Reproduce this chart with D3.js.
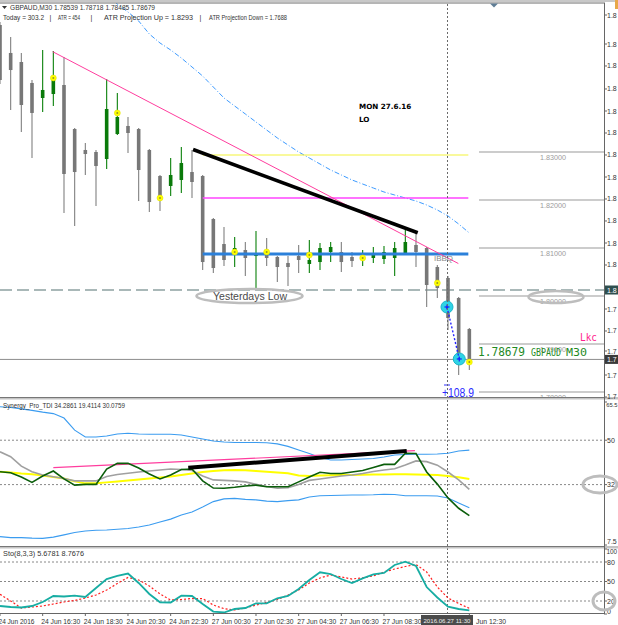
<!DOCTYPE html>
<html><head><meta charset="utf-8">
<script src="https://cdn.jsdelivr.net/npm/d3@7"></script>
<style>html,body{margin:0;padding:0;background:#fff;overflow:hidden}</style>
</head><body><svg id="c" width="618" height="625"></svg>
<script>
// ---------- DATA ----------
const timeLabels = ["24 Jun 2016","24 Jun 16:30","24 Jun 18:30","24 Jun 20:30","24 Jun 22:30","27 Jun 00:30","27 Jun 02:30","27 Jun 04:30","27 Jun 06:30","27 Jun 08:30","Jun 12:30"];
const timeLabelBars = [0,4,8,12,16,20,24,28,32,36,44];
const cursorTimeLabel = "2016.06.27 11:30";
const cursorBar = 42;
const open  = [1.85646,1.85063,1.84875,1.84438,1.84125,1.84208,1.84396,1.83479,1.83042,1.83000,1.82854,1.83375,1.83542,1.83479,1.83042,1.82500,1.82292,1.82417,1.82583,1.82500,1.81604,1.81083,1.80875,1.80958,1.80833,1.80958,1.80813,1.80688,1.80833,1.80667,1.80708,1.80917,1.80917,1.80813,1.80750,1.80792,1.80771,1.80792,1.80896,1.81063,1.81000,1.80604,1.80375,1.79958,1.79313];
const high  = [1.85708,1.85396,1.85063,1.84500,1.85125,1.85104,1.84979,1.83500,1.83188,1.83042,1.84521,1.84229,1.83729,1.83500,1.83060,1.82520,1.82875,1.83104,1.83042,1.82520,1.81625,1.81438,1.81229,1.81125,1.81354,1.81208,1.80833,1.80833,1.81063,1.81167,1.81104,1.81125,1.81125,1.80917,1.80958,1.81021,1.81042,1.81125,1.81375,1.81313,1.81020,1.80646,1.80417,1.79980,1.79333];
const low   = [1.84417,1.83875,1.83417,1.82875,1.83833,1.83958,1.81729,1.81458,1.82521,1.81875,1.82646,1.83354,1.82979,1.81979,1.81750,1.81771,1.82083,1.82146,1.82042,1.80542,1.80479,1.80625,1.80604,1.80417,1.80167,1.80625,1.80292,1.80208,1.80479,1.80479,1.80542,1.80708,1.80500,1.80604,1.80625,1.80688,1.80667,1.80417,1.80854,1.80604,1.79771,1.79958,1.79292,1.78354,1.78458];
const close = [1.84500,1.84708,1.83979,1.83813,1.84292,1.84500,1.82542,1.82583,1.82958,1.82708,1.83896,1.83729,1.83396,1.82625,1.81958,1.82042,1.82521,1.82771,1.82375,1.80708,1.80583,1.80750,1.81000,1.80792,1.80875,1.80792,1.80604,1.80604,1.80750,1.80750,1.81000,1.81021,1.80708,1.80729,1.80833,1.80854,1.80917,1.81000,1.81125,1.80917,1.80229,1.80167,1.79542,1.78667,1.78679];
const maStart = 10;
const maValues = [1.86271,1.86083,1.85917,1.85729,1.85458,1.85271,1.85125,1.84958,1.84771,1.84583,1.84354,1.84125,1.83958,1.83792,1.83625,1.83458,1.83292,1.83146,1.83000,1.82875,1.82750,1.82625,1.82521,1.82417,1.82333,1.82250,1.82167,1.82104,1.82042,1.81979,1.81896,1.81792,1.81667,1.81500,1.81313];
const dotBars = [5,11,15,22,25,29,34,41,44];
const dotPrices = [1.84542,1.83813,1.82042,1.80917,1.80917,1.80854,1.80792,1.80271,1.78625];
const priceTicks = [1.85854,1.85250,1.84792,1.84313,1.83854,1.83396,1.82938,1.82479,1.82021,1.81563,1.81104,1.80646,1.79729,1.79271,1.78854,1.78354,1.77896];
const levelPrices = [1.83,1.82,1.81,1.80,1.79,1.78];
const levelLabels = ["1.83000","1.82000","1.81000","1.80000","1.79000","1.78000"];
const yesterdayLow = 1.80125;
const bidPrice = 1.78679;
const hLevelPrices = [1.82938,1.82042,1.80875];
const hLevelColors = ["#f4f43a","#ff45ff","#2b80da"];
const hLevelWidths = [1.2,1.3,3.2];
const hLevelBars = [19,44];
const trendPink = [[4.94,1.85090],[42.97,1.80677]];
const trendBlack = [[18.1,1.83052],[39.16,1.81319]];
const measureBars = [42,43];
const measurePrices = [1.79771,1.78688];
// TDI
const tdiUpper = [63.6,63.3,62.7,62.1,61.4,60.8,59.0,54.1,51.3,51.3,51.7,52.5,52.8,52.5,52.4,52.4,52.4,52.1,51.3,50.5,49.7,49.3,49.1,49.1,49.1,49.0,48.5,47.5,46.0,44.6,43.0,42.0,42.0,42.2,42.4,42.6,43.2,44.0,44.2,44.3,44.3,44.4,44.7,45.6,46.0];
const tdiLower = [10.9,10.5,10.5,10.3,10.2,10.7,11.6,12.6,13.2,13.5,13.6,13.9,14.2,14.8,15.6,16.8,18.0,19.7,20.9,22.9,25.1,26.2,26.4,26.0,25.8,25.3,25.1,25.5,25.8,27.0,27.5,27.6,27.7,27.8,27.8,27.9,28.1,28.0,27.5,27.5,27.5,27.4,26.6,24.5,22.6];
const tdiRsi = [37.2,36.8,35.1,32.9,35.5,37.5,34.3,31.8,32.1,32.1,38.3,40.6,40.6,38.7,36.3,34.3,35.9,38.1,38.3,33.5,30.6,30.5,30.9,31.4,31.8,31.1,31.1,31.1,33.1,35.1,37.0,36.5,36.5,37.1,37.7,38.9,40.2,40.2,44.7,44.6,37.1,32.2,26.6,22.4,19.41];
const tdiSignal = [45.3,43.3,39.5,37.2,35.9,35.2,34.5,33.5,33.5,33.5,35.3,36.1,36.6,37.1,37.5,37.9,38.3,38.1,37.7,35.5,33.9,33.7,33.5,33.1,32.1,31.2,30.5,30.7,32.0,33.7,34.3,34.9,35.5,35.9,36.5,37.3,37.9,38.4,39.9,41.6,41.3,39.9,37.1,33.9,30.08];
const tdiBase = [37.2,36.9,36.5,36.2,35.7,35.1,34.5,33.3,32.5,32.5,32.9,33.3,33.7,34.1,34.5,34.9,35.3,35.9,36.5,37.1,37.5,37.8,37.9,37.8,37.5,37.2,36.9,36.6,35.7,35.5,35.7,35.8,35.9,35.9,36.0,36.1,36.1,36.2,36.2,36.1,36.0,35.9,35.5,35.0,34.29];
const tdiLevels = [50,32];
const tdiAxis = [65.5,50,32,7.5];
const tdiAxisLabels = ["65.5","50","32","7.5"];
const tdiTrendPink = [[5.0,38.85],[38.9,45.75]];
const tdiTrendBlack = [[17.65,38.85],[38.13,45.6]];
// Stochastic
const stoK = [12.3,10.8,10.0,12.3,18.5,27.7,26.9,28.2,26.2,40.0,53.8,58.5,62.3,47.7,30.8,18.0,17.7,28.2,27.7,15.4,3.8,2.3,7.7,9.2,16.5,16.5,24.2,27.7,38.5,52.3,64.2,61.5,53.8,47.7,54.9,61.1,63.1,75.4,80.5,73.8,41.5,25.4,11.2,7.7,5.68];
const stoD = [30.3,20.0,9.2,10.8,12.3,15.4,18.5,20.8,24.6,29.2,36.9,46.9,56.2,52.3,43.1,30.8,21.5,22.3,23.8,23.8,13.8,8.2,6.2,9.2,13.8,18.0,22.3,29.2,36.9,47.7,55.4,60.0,56.9,53.8,55.8,58.5,64.6,69.2,73.1,76.2,64.6,41.5,24.6,16.2,8.77];
const stoLevels = [80,50,20];
const stoAxis = [100,80,50,20,0];
const stoAxisLabels = ["100","80","50","20","0"];
const headerParts = ["Today = 303.2","|","ATR = 454","|","ATR Projection Up = 1.8293","|","ATR Projection Down = 1.7688"];

// ---------- DRAW ----------
const FONT = "'Liberation Sans', Arial, sans-serif";
const svg = d3.select("#c");
svg.append("rect").attr("width",618).attr("height",625).attr("fill","#fff");
const defs = svg.append("defs");
function clip(id,x0,y0,w,h){defs.append("clipPath").attr("id",id).append("rect").attr("x",x0).attr("y",y0).attr("width",w).attr("height",h);}
clip("cm",0,3,604,394); clip("ct",0,399,604,147); clip("cs",0,548,604,65);

const x = d3.scaleLinear().domain([0,44]).range([0,469.33]);
const yP = d3.scaleLinear().domain([1.78,1.83]).range([392,152]);
const yT = d3.scaleLinear().domain([7.5,65.5]).range([545,402]);
const yS = d3.scaleLinear().domain([0,100]).range([614,549]);
const axisFmt = p => (Math.floor(p*10)/10).toFixed(1);   // the window edge shows only the leading digits

function txt(g,s,xx,yy,opt){
  const t=g.append("text").attr("x",xx).attr("y",yy).attr("font-family",opt.family||FONT)
    .attr("font-size",opt.size||7.5).attr("fill",opt.fill||"#222").text(s);
  if(opt.weight) t.attr("font-weight",opt.weight);
  if(opt.anchor) t.attr("text-anchor",opt.anchor);
  if(opt.len) t.attr("textLength",opt.len).attr("lengthAdjust","spacingAndGlyphs");
  return t;
}

// ----- main panel -----
const gM = svg.append("g").attr("clip-path","url(#cm)");
levelPrices.forEach((p,i)=>{
  gM.append("line").attr("x1",479).attr("x2",604).attr("y1",yP(p)).attr("y2",yP(p)).attr("stroke","#9a9a9a").attr("stroke-width",1.2);
  txt(gM,levelLabels[i],553,yP(p)+7.6,{size:7.2,fill:"#9c9c9c",anchor:"middle"});
});
gM.append("line").attr("x1",0).attr("x2",604).attr("y1",yP(yesterdayLow)).attr("y2",yP(yesterdayLow))
  .attr("stroke","#557373").attr("stroke-width",1.2).attr("stroke-dasharray","12,5");
gM.append("line").attr("x1",0).attr("x2",604).attr("y1",yP(bidPrice)).attr("y2",yP(bidPrice))
  .attr("stroke","#8c8c8c").attr("stroke-width",1);
gM.append("path").datum(maValues).attr("fill","none").attr("stroke","#3d9bff").attr("stroke-width",1)
  .attr("stroke-dasharray","5,2,1,2")
  .attr("d",d3.line().x((d,i)=>x(i+maStart)).y(d=>yP(d)));
const cg = gM.append("g");
open.forEach((o,i)=>{
  const c=close[i], bull=c>o, col=bull?"#0a800a":"#808080";
  cg.append("line").attr("x1",x(i)).attr("x2",x(i)).attr("y1",yP(high[i])).attr("y2",yP(low[i])).attr("stroke",col).attr("stroke-width",1.1);
  const top=yP(Math.max(o,c)), bot=yP(Math.min(o,c));
  cg.append("rect").attr("x",x(i)-1.8).attr("width",3.6).attr("y",top).attr("height",Math.max(1,bot-top)).attr("fill",bull?"#0a7a0a":"#777");
});
hLevelPrices.forEach((p,i)=>{
  gM.append("line").attr("x1",x(hLevelBars[0])).attr("x2",x(hLevelBars[1])-1).attr("y1",yP(p)).attr("y2",yP(p))
    .attr("stroke",hLevelColors[i]).attr("stroke-width",hLevelWidths[i]);
});
gM.append("line").attr("x1",x(trendPink[0][0])).attr("y1",yP(trendPink[0][1])).attr("x2",x(trendPink[1][0])).attr("y2",yP(trendPink[1][1]))
  .attr("stroke","#ff3d9e").attr("stroke-width",1);
gM.append("line").attr("x1",x(trendBlack[0][0])).attr("y1",yP(trendBlack[0][1])).attr("x2",x(trendBlack[1][0])).attr("y2",yP(trendBlack[1][1]))
  .attr("stroke","#000").attr("stroke-width",3.6);
dotBars.forEach((b,i)=>{
  gM.append("circle").attr("cx",x(b)).attr("cy",yP(dotPrices[i])).attr("r",3).attr("fill","#ffff00").attr("stroke","#e0e000").attr("stroke-width",0.5);
  gM.append("circle").attr("cx",x(b)).attr("cy",yP(dotPrices[i])).attr("r",1).attr("fill","#9a9a20");
});
txt(gM,"IBBQ",434,261,{size:7.5,fill:"#888",len:19});
txt(gM,"MON 27.6.16",359,108.5,{family:"'DejaVu Sans', sans-serif",size:7.2,weight:"bold",fill:"#000"});
txt(gM,"LO",359,121.5,{family:"'DejaVu Sans', sans-serif",size:7.2,weight:"bold",fill:"#000"});
gM.append("ellipse").attr("cx",249.5).attr("cy",296).attr("rx",53).attr("ry",7).attr("fill","none").attr("stroke","#bdbdbd").attr("stroke-width",2.5);
txt(gM,"Yesterdays Low",250,299.8,{size:10.4,fill:"#4a4a4a",anchor:"middle",len:74});
gM.append("ellipse").attr("cx",556).attr("cy",297).attr("rx",27.5).attr("ry",6).attr("fill","none").attr("stroke","#bdbdbd").attr("stroke-width",2.5);
txt(gM,"Lkc",580,340.5,{family:"'DejaVu Sans Mono', monospace",size:11,fill:"#ff1f8f",len:17});
const bidText = gM.append("text").attr("y",356).attr("fill","#1f8a1f").attr("font-family","'DejaVu Sans Mono', monospace");
bidText.append("tspan").attr("x",478).attr("font-size",11.5).attr("textLength",47).attr("lengthAdjust","spacingAndGlyphs").text("1.78679");
bidText.append("tspan").attr("x",531).attr("font-size",10).attr("textLength",30).attr("lengthAdjust","spacingAndGlyphs").text("GBPAUD");
bidText.append("tspan").attr("x",566).attr("font-size",10).attr("textLength",21).attr("lengthAdjust","spacingAndGlyphs").text("M30");

// crosshair vertical dotted
svg.append("line").attr("x1",447.5).attr("x2",447.5).attr("y1",4).attr("y2",613).attr("stroke","#6a6a6a").attr("stroke-width",1).attr("stroke-dasharray","2,2");
const m0=[x(measureBars[0])-1,yP(measurePrices[0])], m1=[x(measureBars[1])+0.6,yP(measurePrices[1])];
gM.append("circle").attr("cx",m0[0]).attr("cy",m0[1]).attr("r",6).attr("fill","#2fd3e6").attr("stroke","#19b5c8");
gM.append("circle").attr("cx",m1[0]).attr("cy",m1[1]).attr("r",6).attr("fill","#2fd3e6").attr("stroke","#19b5c8");
gM.append("line").attr("x1",m0[0]).attr("y1",m0[1]).attr("x2",m1[0]).attr("y2",m1[1]).attr("stroke","#2424ff").attr("stroke-width",1.4).attr("stroke-dasharray","2,2");
[m0,m1].forEach(m=>{
  gM.append("line").attr("x1",m[0]-2.5).attr("x2",m[0]+2.5).attr("y1",m[1]).attr("y2",m[1]).attr("stroke","#1a1aff").attr("stroke-width",1.2);
  gM.append("line").attr("x1",m[0]).attr("x2",m[0]).attr("y1",m[1]-2.5).attr("y2",m[1]+2.5).attr("stroke","#1a1aff").attr("stroke-width",1.2);
});
gM.append("line").attr("x1",444).attr("x2",450).attr("y1",385).attr("y2",385).attr("stroke","#3030ff").attr("stroke-width",1);
txt(gM,"+108.9",442,397,{size:12.5,fill:"#2a2aff",len:32});

// header
svg.append("rect").attr("x",0).attr("y",0).attr("width",618).attr("height",2).attr("fill","#c8c8c8");
svg.append("line").attr("x1",0).attr("x2",605).attr("y1",3).attr("y2",3).attr("stroke","#6c6c6c").attr("stroke-width",1);
svg.append("path").attr("d","M2,6 L7,6 L4.5,9 Z").attr("fill","#333");
txt(svg,"GBPAUD,M30  1.78539 1.78718 1.78485 1.78679",10,10,{size:7.2,fill:"#333",len:145});
const hdrX = [3,49.5,58,90.5,104,199.5,209];
const hdrLen = [41,0,22,0,89,0,78];
headerParts.forEach((s,i)=>{
  txt(svg,s,hdrX[i],19.8,{size:i===2?6.4:7.0,fill:"#333",len:hdrLen[i]||null});
});
svg.append("path").attr("d","M490,3.5 L498,3.5 L494,7.5 Z").attr("fill","#5f7d95");
svg.append("rect").attr("x",615).attr("y",0).attr("width",3).attr("height",9).attr("fill","#e8a848");

// ----- TDI panel -----
const gT = svg.append("g").attr("clip-path","url(#ct)");
tdiLevels.forEach(v=>gT.append("line").attr("x1",0).attr("x2",604).attr("y1",yT(v)).attr("y2",yT(v)).attr("stroke","#888").attr("stroke-dasharray","2,2"));
const lT = d3.line().x((d,i)=>x(i)).y(d=>yT(d));
gT.append("path").datum(tdiUpper).attr("fill","none").attr("stroke","#3b9cf0").attr("stroke-width",1.1).attr("d",lT);
gT.append("path").datum(tdiLower).attr("fill","none").attr("stroke","#3b9cf0").attr("stroke-width",1.1).attr("d",lT);
gT.append("path").datum(tdiBase).attr("fill","none").attr("stroke","#ffff00").attr("stroke-width",2).attr("d",lT);
gT.append("path").datum(tdiSignal).attr("fill","none").attr("stroke","#a0a0a0").attr("stroke-width",1.6).attr("d",lT);
gT.append("line").attr("x1",x(tdiTrendPink[0][0])).attr("y1",yT(tdiTrendPink[0][1])).attr("x2",x(tdiTrendPink[1][0])).attr("y2",yT(tdiTrendPink[1][1])).attr("stroke","#ff3d9e").attr("stroke-width",1.2);
gT.append("path").datum(tdiRsi).attr("fill","none").attr("stroke","#0b5e0b").attr("stroke-width",1.6).attr("d",lT);
gT.append("line").attr("x1",x(tdiTrendBlack[0][0])).attr("y1",yT(tdiTrendBlack[0][1])).attr("x2",x(tdiTrendBlack[1][0])).attr("y2",yT(tdiTrendBlack[1][1])).attr("stroke","#000").attr("stroke-width",4);
txt(svg,"Synergy_Pro_TDI 34.2861 19.4114 30.0759",3,408,{size:7.2,fill:"#333",len:122});

// ----- Stochastic panel -----
const gS = svg.append("g").attr("clip-path","url(#cs)");
stoLevels.forEach(v=>gS.append("line").attr("x1",0).attr("x2",604).attr("y1",yS(v)).attr("y2",yS(v)).attr("stroke","#888").attr("stroke-dasharray","2,2"));
const lS = d3.line().x((d,i)=>x(i)).y(d=>yS(d));
gS.append("path").datum(stoD).attr("fill","none").attr("stroke","#ff2020").attr("stroke-width",1.2).attr("stroke-dasharray","2,2").attr("d",lS);
gS.append("path").datum(stoK).attr("fill","none").attr("stroke","#17ada3").attr("stroke-width",1.8).attr("d",lS);
txt(svg,"Sto(8,3,3) 5.6781 8.7676",3,556,{size:7.2,fill:"#333",len:81});

// ----- separators & borders -----
[[397,399.5],[546,548.5]].forEach(([a,b])=>{
  svg.append("rect").attr("x",0).attr("y",a).attr("width",618).attr("height",b-a).attr("fill","#c4c4c4");
  svg.append("line").attr("x1",0).attr("x2",605).attr("y1",a+0.5).attr("y2",a+0.5).attr("stroke","#777");
});
svg.append("line").attr("x1",604.5).attr("x2",604.5).attr("y1",3).attr("y2",614).attr("stroke","#666");
svg.append("line").attr("x1",0).attr("x2",605).attr("y1",613.5).attr("y2",613.5).attr("stroke","#666");

// ----- right axes -----
const ax = svg.append("g");
priceTicks.forEach(p=>{
  const yy=yP(p);
  ax.append("line").attr("x1",604).attr("x2",607).attr("y1",yy).attr("y2",yy).attr("stroke","#666");
  txt(ax,axisFmt(p),607,yy+2.5,{size:7.0,fill:"#333"});
});
function hiLabel(p,bg){
  const yy=yP(p);
  ax.append("rect").attr("x",605).attr("y",yy-4.5).attr("width",13).attr("height",9).attr("fill",bg);
  txt(ax,axisFmt(p),607,yy+2.8,{size:7.0,fill:"#fff"});
}
hiLabel(yesterdayLow,"#2f4f4f");
hiLabel(bidPrice,"#3a3a3a");
tdiAxis.forEach((v,i)=>{
  const yy=Math.min(541,Math.max(404,yT(v)));
  ax.append("line").attr("x1",604).attr("x2",607).attr("y1",yT(v)).attr("y2",yT(v)).attr("stroke","#666");
  const long = tdiAxisLabels[i].length>3;
  txt(ax,tdiAxisLabels[i],long?606.2:607,yy+2.5,{size:long?5.8:7.0,fill:"#333"});
});
stoAxis.forEach((v,i)=>{
  const yy=Math.min(611,Math.max(551.5,yS(v)));
  ax.append("line").attr("x1",604).attr("x2",607).attr("y1",yS(v)).attr("y2",yS(v)).attr("stroke","#666");
  const long = stoAxisLabels[i].length>2;
  txt(ax,stoAxisLabels[i],long?606.5:607,yy+2.5,{size:long?6.4:7.0,fill:"#333"});
});
svg.append("ellipse").attr("cx",600).attr("cy",484.5).attr("rx",17).attr("ry",8.5).attr("fill","none").attr("stroke","#bdbdbd").attr("stroke-width",3);
svg.append("ellipse").attr("cx",604).attr("cy",601).attr("rx",11).attr("ry",9).attr("fill","none").attr("stroke","#bdbdbd").attr("stroke-width",3);

// ----- time axis -----
const tx = svg.append("g");
timeLabelBars.forEach((b,i)=>{
  const xx = x(b);
  tx.append("line").attr("x1",xx).attr("x2",xx).attr("y1",613).attr("y2",616).attr("stroke","#666");
  const last = i===timeLabels.length-1;
  txt(tx,timeLabels[i],last?476:xx-1.5,623.5,{size:7.2,fill:"#333",len:i===0?36:(last?30:39)});
});
tx.append("rect").attr("x",421).attr("y",615).attr("width",52).attr("height",10).attr("fill","#4b4b4b");
txt(tx,cursorTimeLabel,x(cursorBar)-24.5,623.3,{size:6.2,fill:"#eee",len:47});
</script></body></html>
